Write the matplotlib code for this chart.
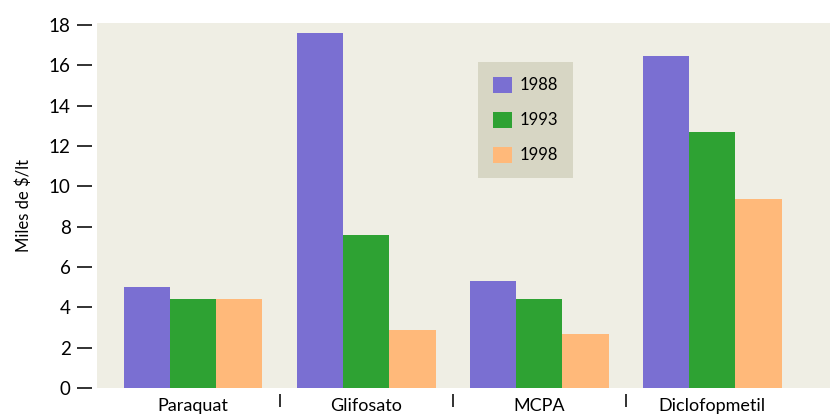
import matplotlib
matplotlib.use('Agg')
import matplotlib.pyplot as plt
import numpy as np

plt.rcParams['font.family'] = ['Lato', 'DejaVu Sans']

# Herbicide prices, thousands of $ per litre
categories = ['Paraquat', 'Glifosato', 'MCPA', 'Diclofopmetil']
years = ['1988', '1993', '1998']
values_1988 = [5.0, 17.6, 5.3, 16.45]
values_1993 = [4.4, 7.6, 4.4, 12.7]
values_1998 = [4.4, 2.9, 2.7, 9.35]
yticks = [0, 2, 4, 6, 8, 10, 12, 14, 16, 18]

colors = ['#7a6fd2', '#2ea233', '#ffb97a']
bg = '#efeee4'

fig = plt.figure(figsize=(8.3, 4.19), dpi=100)
fig.patch.set_facecolor('white')
ax = fig.add_axes([0.117, 0.074, 0.883, 0.871])
ax.set_facecolor(bg)

x = np.arange(len(categories))
w = 0.267
series = [values_1988, values_1993, values_1998]
for i, (vals, c, lab) in enumerate(zip(series, colors, years)):
    ax.bar(x + (i - 1) * w, vals, width=w, color=c, label=lab, linewidth=0)

ax.set_xlim(-0.555, 3.68)
ax.set_ylim(0, 18.1)

for s in ['top', 'right', 'bottom', 'left']:
    ax.spines[s].set_visible(False)
ax.spines['left'].set_position(('outward', 4))
ax.spines['bottom'].set_position(('outward', 4))

ax.set_yticks(yticks)
ax.set_yticklabels([str(t) for t in yticks], fontsize=13.5)
ax.tick_params(axis='y', direction='out', length=11, width=1.3, pad=4, color='#222222')

ax.set_xticks(x)
ax.set_xticklabels(categories, fontsize=13)
ax.tick_params(axis='x', which='major', length=0, pad=3)
ax.set_xticks([0.5, 1.5, 2.5], minor=True)
ax.tick_params(axis='x', which='minor', direction='out', length=9, width=1.3, color='#222222')

ax.set_ylabel('Miles de $/lt', fontsize=12, labelpad=12)

leg = ax.legend(loc='upper left', bbox_to_anchor=(0.52, 0.894), fontsize=12,
                frameon=True, fancybox=False, handlelength=1.1, handleheight=1.1,
                labelspacing=1.1, handletextpad=0.5, borderpad=0.9, borderaxespad=0)
leg.get_frame().set_facecolor('#d7d6c4')
leg.get_frame().set_edgecolor('none')
leg.get_frame().set_alpha(1)

plt.savefig('out.png', dpi=100, facecolor='white')
